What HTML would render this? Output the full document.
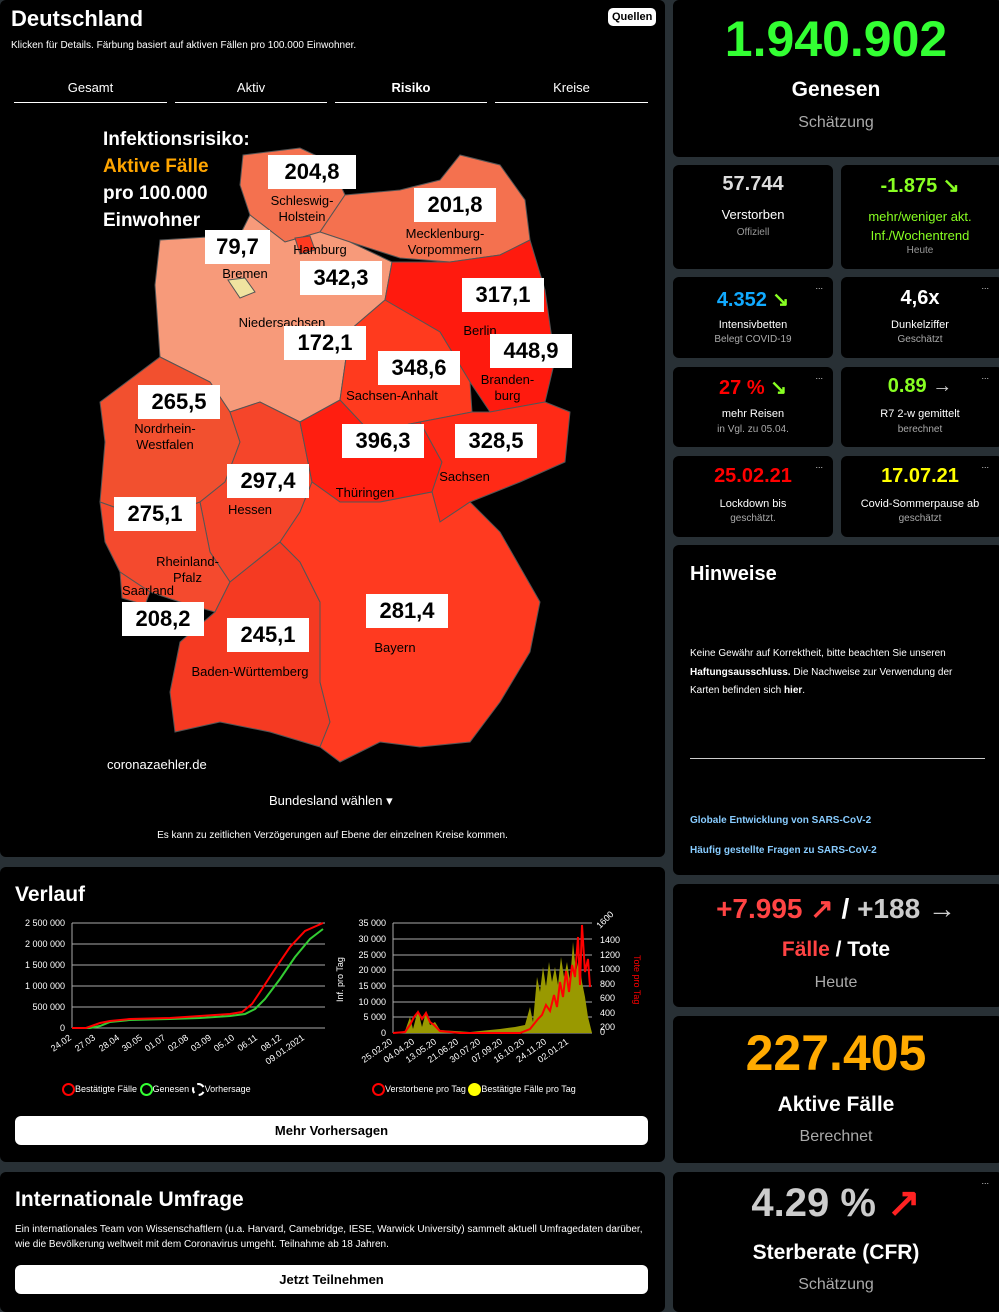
<!DOCTYPE html>
<html><head><meta charset="utf-8"><style>
*{box-sizing:border-box;margin:0;padding:0}
body{width:999px;height:1298px;background:#283035;font-family:"Liberation Sans",sans-serif;color:#fff;position:relative;overflow:hidden}
.p{position:absolute;background:#000;border-radius:6px}
.c{text-align:center;position:absolute;width:100%}
.t{position:absolute;white-space:nowrap}
.lbl{position:absolute;background:#fff;color:#000;font-weight:bold;font-size:22px;text-align:center;line-height:34px;height:34px}
.sn{position:absolute;color:#000;font-size:13px;text-align:center;line-height:16px;white-space:nowrap}
.dots{position:absolute;right:10px;top:4px;font-size:9px;color:#ccc}
.btn{position:absolute;background:#fff;color:#000;font-weight:bold;font-size:13px;text-align:center;border-radius:6px;height:29px;line-height:29px}
</style></head><body>

<div class="p" style="left:0;top:0;width:665px;height:857px">
 <div class="t" style="left:11px;top:6px;font-size:22px;font-weight:bold">Deutschland</div>
 <div class="t" style="left:608px;top:8px;background:#fff;color:#000;font-size:11px;font-weight:bold;border-radius:5px;padding:3px 4px">Quellen</div>
 <div class="t" style="left:11px;top:40px;font-size:10px">Klicken für Details. Färbung basiert auf aktiven Fällen pro 100.000 Einwohner.</div>
 <div class="t" style="left:14px;top:80px;width:153px;text-align:center;font-size:13px;border-bottom:1px solid #fff;padding-bottom:7px">Gesamt</div>
 <div class="t" style="left:175px;top:80px;width:152px;text-align:center;font-size:13px;border-bottom:1px solid #fff;padding-bottom:7px">Aktiv</div>
 <div class="t" style="left:335px;top:80px;width:152px;text-align:center;font-size:13px;font-weight:bold;border-bottom:1px solid #fff;padding-bottom:7px">Risiko</div>
 <div class="t" style="left:495px;top:80px;width:153px;text-align:center;font-size:13px;border-bottom:1px solid #fff;padding-bottom:7px">Kreise</div>

 <svg style="position:absolute;left:0;top:0" width="665" height="857">
  <g stroke="#555" stroke-width="1">
  <polygon fill="#f4714f" points="243,155 300,148 330,162 345,195 320,232 285,242 250,215 240,185"/>
  <polygon fill="#f4714f" points="345,195 400,190 440,180 460,155 500,165 525,200 530,240 500,255 450,262 400,258 350,242 320,232"/>
  <polygon fill="#f79a7a" points="160,240 240,235 250,215 285,242 320,232 350,242 392,262 385,300 350,330 340,400 300,422 260,402 230,412 210,382 160,357 155,285"/>
  <polygon fill="#ff1a0e" points="392,262 450,262 500,255 530,240 545,290 555,360 545,402 490,412 470,382 440,332 385,300"/>
  <polygon fill="#ff3a1e" points="385,300 440,332 470,382 472,412 420,422 370,432 340,400 350,330"/>
  <polygon fill="#f2502f" points="100,402 160,357 210,382 230,412 240,442 225,482 200,502 150,520 100,502 105,442"/>
  <polygon fill="#f5452a" points="230,412 260,402 300,422 312,482 300,512 280,542 230,582 210,552 200,502 225,482 240,442"/>
  <polygon fill="#ff1e10" points="300,422 340,400 370,432 420,422 442,462 432,492 380,502 340,502 312,482"/>
  <polygon fill="#ff2a16" points="420,422 472,412 490,412 545,402 570,412 565,462 520,482 470,502 440,522 432,492 442,462"/>
  <polygon fill="#f44a2e" points="100,502 150,520 200,502 210,552 230,582 215,612 180,602 150,592 120,572 105,542"/>
  <polygon fill="#f44a2e" points="120,572 150,592 145,605 122,598"/>
  <polygon fill="#f53a22" points="230,582 280,542 300,562 320,602 320,682 330,722 320,747 270,732 220,722 175,732 170,692 180,642 215,612"/>
  <polygon fill="#ff3a20" points="280,542 300,512 312,482 340,502 380,502 432,492 440,522 470,502 500,532 540,602 530,652 500,702 470,742 420,747 380,742 340,762 320,747 330,722 320,682 320,602 300,562"/>
  <polygon fill="#f0e3a0" points="228,280 245,278 255,292 240,298"/>
  <polygon fill="#ff3a20" points="295,238 310,236 315,250 300,254"/>
  </g>
 </svg>
 <div class="t" style="left:103px;top:126px;font-size:19px;font-weight:bold;line-height:27px">Infektionsrisiko:<br><span style="color:#ffa500">Aktive Fälle</span><br>pro 100.000<br>Einwohner</div>
 <div class="lbl" style="left:268px;top:155px;width:88px">204,8</div>
 <div class="sn" style="left:262px;top:193px;width:80px">Schleswig-<br>Holstein</div>
 <div class="lbl" style="left:414px;top:188px;width:82px">201,8</div>
 <div class="sn" style="left:395px;top:226px;width:100px">Mecklenburg-<br>Vorpommern</div>
 <div class="lbl" style="left:205px;top:230px;width:65px">79,7</div>
 <div class="sn" style="left:215px;top:266px;width:60px">Bremen</div>
 <div class="sn" style="left:290px;top:242px;width:60px">Hamburg</div>
 <div class="lbl" style="left:300px;top:261px;width:82px">342,3</div>
 <div class="lbl" style="left:462px;top:278px;width:82px">317,1</div>
 <div class="sn" style="left:460px;top:323px;width:40px">Berlin</div>
 <div class="sn" style="left:232px;top:315px;width:100px">Niedersachsen</div>
 <div class="lbl" style="left:284px;top:326px;width:82px">172,1</div>
 <div class="lbl" style="left:490px;top:334px;width:82px">448,9</div>
 <div class="sn" style="left:475px;top:372px;width:65px">Branden-<br>burg</div>
 <div class="lbl" style="left:378px;top:351px;width:82px">348,6</div>
 <div class="sn" style="left:342px;top:388px;width:100px">Sachsen-Anhalt</div>
 <div class="lbl" style="left:138px;top:385px;width:82px">265,5</div>
 <div class="sn" style="left:125px;top:421px;width:80px">Nordrhein-<br>Westfalen</div>
 <div class="lbl" style="left:342px;top:424px;width:82px">396,3</div>
 <div class="lbl" style="left:455px;top:424px;width:82px">328,5</div>
 <div class="sn" style="left:432px;top:469px;width:65px">Sachsen</div>
 <div class="lbl" style="left:227px;top:464px;width:82px">297,4</div>
 <div class="sn" style="left:220px;top:502px;width:60px">Hessen</div>
 <div class="sn" style="left:330px;top:485px;width:70px">Thüringen</div>
 <div class="lbl" style="left:114px;top:497px;width:82px">275,1</div>
 <div class="sn" style="left:150px;top:554px;width:75px">Rheinland-<br>Pfalz</div>
 <div class="sn" style="left:118px;top:583px;width:60px">Saarland</div>
 <div class="lbl" style="left:122px;top:602px;width:82px">208,2</div>
 <div class="lbl" style="left:366px;top:594px;width:82px">281,4</div>
 <div class="sn" style="left:365px;top:640px;width:60px">Bayern</div>
 <div class="lbl" style="left:227px;top:618px;width:82px">245,1</div>
 <div class="sn" style="left:185px;top:664px;width:130px">Baden-Württemberg</div>
 <div class="t" style="left:107px;top:757px;font-size:13px">coronazaehler.de</div>
 <div class="t" style="left:269px;top:793px;font-size:13px">Bundesland wählen ▾</div>
 <div class="c" style="top:830px;font-size:10px">Es kann zu zeitlichen Verzögerungen auf Ebene der einzelnen Kreise kommen.</div>
</div>

<div class="p" style="left:0;top:867px;width:665px;height:295px">
 <div class="t" style="left:15px;top:16px;font-size:21px;font-weight:bold">Verlauf</div>
 <svg style="position:absolute;left:0;top:0" width="665" height="295" font-family="Liberation Sans" font-size="9" fill="#fff">
  <g stroke="#aaa" stroke-width="1">
   <line x1="72" y1="56" x2="325" y2="56"/><line x1="72" y1="77" x2="325" y2="77"/><line x1="72" y1="98" x2="325" y2="98"/><line x1="72" y1="119" x2="325" y2="119"/><line x1="72" y1="140" x2="325" y2="140"/><line x1="72" y1="161" x2="325" y2="161"/>
   <line x1="72" y1="56" x2="72" y2="161"/>
   <line x1="393" y1="56" x2="592" y2="56"/><line x1="393" y1="72" x2="592" y2="72"/><line x1="393" y1="88" x2="592" y2="88"/><line x1="393" y1="103" x2="592" y2="103"/><line x1="393" y1="119" x2="592" y2="119"/><line x1="393" y1="135" x2="592" y2="135"/><line x1="393" y1="150" x2="592" y2="150"/><line x1="393" y1="166" x2="592" y2="166"/>
   <line x1="393" y1="56" x2="393" y2="166"/>
  </g>
  <g text-anchor="end">
   <text x="65" y="59">2 500 000</text><text x="65" y="80">2 000 000</text><text x="65" y="101">1 500 000</text><text x="65" y="122">1 000 000</text><text x="65" y="143">500 000</text><text x="65" y="164">0</text>
   <text x="386" y="59">35 000</text><text x="386" y="75">30 000</text><text x="386" y="91">25 000</text><text x="386" y="106">20 000</text><text x="386" y="122">15 000</text><text x="386" y="138">10 000</text><text x="386" y="153">5 000</text><text x="386" y="169">0</text>
  </g>
  <g text-anchor="end">
   <text transform="translate(72,172) rotate(-35)">24.02</text><text transform="translate(96,172) rotate(-35)">27.03</text><text transform="translate(120,172) rotate(-35)">28.04</text><text transform="translate(143,172) rotate(-35)">30.05</text><text transform="translate(166,172) rotate(-35)">01.07</text><text transform="translate(189,172) rotate(-35)">02.08</text><text transform="translate(212,172) rotate(-35)">03.09</text><text transform="translate(235,172) rotate(-35)">05.10</text><text transform="translate(258,172) rotate(-35)">06.11</text><text transform="translate(282,172) rotate(-35)">08.12</text><text transform="translate(305,172) rotate(-35)">09.01.2021</text>
   <text transform="translate(393,176) rotate(-35)">25.02.20</text><text transform="translate(415,176) rotate(-35)">04.04.20</text><text transform="translate(437,176) rotate(-35)">13.05.20</text><text transform="translate(459,176) rotate(-35)">21.06.20</text><text transform="translate(481,176) rotate(-35)">30.07.20</text><text transform="translate(503,176) rotate(-35)">07.09.20</text><text transform="translate(525,176) rotate(-35)">16.10.20</text><text transform="translate(547,176) rotate(-35)">24.11.20</text><text transform="translate(569,176) rotate(-35)">02.01.21</text>
  </g>
  <g>
   <text x="600" y="62" transform="rotate(-45 600 62)">1600</text><text x="600" y="76">1400</text><text x="600" y="91">1200</text><text x="600" y="105">1000</text><text x="600" y="120">800</text><text x="600" y="134">600</text><text x="600" y="149">400</text><text x="600" y="163">200</text><text x="600" y="168">0</text>
  </g>
  <text transform="translate(343,135) rotate(-90)">Inf. pro Tag</text>
  <text transform="translate(634,88) rotate(90)" fill="#f00">Tote pro Tag</text>
  <polyline fill="none" stroke="#3c3" stroke-width="2" points="72,161 90,161 100,159 110,155 130,153 170,152 200,151 230,149 245,147 255,142 265,132 280,112 295,90 310,72 323,62"/>
  <polyline fill="none" stroke="#f00" stroke-width="2" points="72,161 86,161 100,156 110,154 130,152 170,151 200,149 230,147 242,145 252,137 262,122 275,102 290,80 305,64 323,56"/>
  <polygon fill="#990" points="395,166 405,164 410,150 413,162 418,143 422,160 426,145 430,158 435,155 440,163 470,165 500,162 515,160 525,158 530,140 533,155 537,110 540,125 543,100 546,120 549,95 552,115 555,100 558,118 561,90 564,110 567,95 570,115 573,75 576,105 579,90 582,115 585,130 588,150 592,166"/>
  <polyline fill="none" stroke="#f00" stroke-width="2" points="393,166 405,165 410,158 414,150 418,145 422,152 426,146 430,155 434,158 440,164 460,166 520,166 530,162 538,152 542,148 546,138 550,144 554,128 557,140 560,115 563,130 566,104 569,125 572,98 575,110 578,70 580,118 582,58 585,105 588,92 590,120"/>
 </svg>
 <div class="t" style="left:62px;top:216px;font-size:9px"><span style="display:inline-block;width:13px;height:13px;border:2px solid #f00;border-radius:50%;vertical-align:middle"></span>Bestätigte Fälle <span style="display:inline-block;width:13px;height:13px;border:2px solid #3f3;border-radius:50%;vertical-align:middle"></span>Genesen <span style="display:inline-block;width:13px;height:13px;border:2px dashed #fff;border-radius:50%;vertical-align:middle"></span>Vorhersage</div>
 <div class="t" style="left:372px;top:216px;font-size:9px"><span style="display:inline-block;width:13px;height:13px;border:2px solid #f00;border-radius:50%;vertical-align:middle"></span>Verstorbene pro Tag <span style="display:inline-block;width:13px;height:13px;background:#ff0;border-radius:50%;vertical-align:middle"></span>Bestätigte Fälle pro Tag</div>
 <div class="btn" style="left:15px;top:249px;width:633px">Mehr Vorhersagen</div>
</div>

<div class="p" style="left:0;top:1172px;width:665px;height:140px">
 <div class="t" style="left:15px;top:16px;font-size:21px;font-weight:bold">Internationale Umfrage</div>
 <div class="t" style="left:15px;top:50px;font-size:10px;line-height:15px;white-space:normal;width:630px">Ein internationales Team von Wissenschaftlern (u.a. Harvard, Camebridge, IESE, Warwick University) sammelt aktuell Umfragedaten darüber, wie die Bevölkerung weltweit mit dem Coronavirus umgeht. Teilnahme ab 18 Jahren.</div>
 <div class="btn" style="left:15px;top:93px;width:633px">Jetzt Teilnehmen</div>
</div>

<div class="p" style="left:673px;top:0;width:330px;height:157px">
 <div class="c" style="top:10px;font-size:50px;font-weight:bold;color:#3f3;width:326px">1.940.902</div>
 <div class="c" style="top:78px;font-size:21px;font-weight:bold;width:326px">Genesen</div>
 <div class="c" style="top:114px;font-size:16px;color:#aaa;width:326px">Schätzung</div>
</div>

<div class="p" style="left:673px;top:165px;width:160px;height:104px">
 <div class="c" style="top:8px;font-size:20px;font-weight:bold;color:#ddd">57.744</div>
 <div class="c" style="top:42px;font-size:13px">Verstorben</div>
 <div class="c" style="top:62px;font-size:10px;color:#999">Offiziell</div>
</div>
<div class="p" style="left:841px;top:165px;width:162px;height:104px">
 <div class="c" style="top:8px;font-size:20px;font-weight:bold;color:#8f2;width:158px">-1.875 ↘</div>
 <div class="c" style="top:42px;font-size:13px;color:#8f2;line-height:19px;width:158px">mehr/weniger akt.<br>Inf./Wochentrend</div>
 <div class="c" style="top:80px;font-size:10px;color:#999;width:158px">Heute</div>
</div>

<div class="p" style="left:673px;top:277px;width:160px;height:81px"><span class="dots">...</span>
 <div class="c" style="top:10px;font-size:20px;font-weight:bold;color:#1af">4.352 <span style="color:#8f2">↘</span></div>
 <div class="c" style="top:42px;font-size:11px">Intensivbetten</div>
 <div class="c" style="top:57px;font-size:10px;color:#aaa">Belegt COVID-19</div>
</div>
<div class="p" style="left:841px;top:277px;width:162px;height:81px"><span class="dots" style="right:14px">...</span>
 <div class="c" style="top:10px;font-size:20px;font-weight:bold;width:158px">4,6x</div>
 <div class="c" style="top:42px;font-size:11px;width:158px">Dunkelziffer</div>
 <div class="c" style="top:57px;font-size:10px;color:#aaa;width:158px">Geschätzt</div>
</div>

<div class="p" style="left:673px;top:367px;width:160px;height:80px"><span class="dots">...</span>
 <div class="c" style="top:8px;font-size:20px;font-weight:bold;color:#f00">27 % <span style="color:#8f2">↘</span></div>
 <div class="c" style="top:41px;font-size:11px">mehr Reisen</div>
 <div class="c" style="top:57px;font-size:10px;color:#aaa">in Vgl. zu 05.04.</div>
</div>
<div class="p" style="left:841px;top:367px;width:162px;height:80px"><span class="dots" style="right:14px">...</span>
 <div class="c" style="top:8px;font-size:20px;font-weight:bold;color:#8f2;width:158px">0.89 <span style="color:#ccc">→</span></div>
 <div class="c" style="top:41px;font-size:11px;width:158px">R7 2-w gemittelt</div>
 <div class="c" style="top:57px;font-size:10px;color:#aaa;width:158px">berechnet</div>
</div>

<div class="p" style="left:673px;top:456px;width:160px;height:81px"><span class="dots">...</span>
 <div class="c" style="top:9px;font-size:20px;font-weight:bold;color:#f00">25.02.21</div>
 <div class="c" style="top:42px;font-size:11px">Lockdown bis</div>
 <div class="c" style="top:57px;font-size:10px;color:#aaa">geschätzt.</div>
</div>
<div class="p" style="left:841px;top:456px;width:162px;height:81px"><span class="dots" style="right:14px">...</span>
 <div class="c" style="top:9px;font-size:20px;font-weight:bold;color:#ff0;width:158px">17.07.21</div>
 <div class="c" style="top:42px;font-size:11px;width:158px">Covid-Sommerpause ab</div>
 <div class="c" style="top:57px;font-size:10px;color:#aaa;width:158px">geschätzt</div>
</div>

<div class="p" style="left:673px;top:545px;width:330px;height:330px">
 <div class="t" style="left:17px;top:18px;font-size:20px;font-weight:bold">Hinweise</div>
 <div class="t" style="left:17px;top:100px;font-size:10px;line-height:18.5px;white-space:normal;width:290px">Keine Gewähr auf Korrektheit, bitte beachten Sie unseren <b>Haftungsausschluss.</b> Die Nachweise zur Verwendung der Karten befinden sich <b>hier</b>.</div>
 <div class="t" style="left:17px;top:213px;width:295px;border-top:1px solid #ccc"></div>
 <div class="t" style="left:17px;top:270px;font-size:10px;font-weight:bold;color:#8cf">Globale Entwicklung von SARS-CoV-2</div>
 <div class="t" style="left:17px;top:300px;font-size:10px;font-weight:bold;color:#8cf">Häufig gestellte Fragen zu SARS-CoV-2</div>
</div>

<div class="p" style="left:673px;top:884px;width:330px;height:123px">
 <div class="c" style="top:8px;font-size:28px;font-weight:bold;width:326px"><span style="color:#f44">+7.995 ↗</span> / <span style="color:#ccc">+188 →</span></div>
 <div class="c" style="top:54px;font-size:21px;font-weight:bold;width:326px"><span style="color:#f44">Fälle</span> / Tote</div>
 <div class="c" style="top:90px;font-size:16px;color:#aaa;width:326px">Heute</div>
</div>

<div class="p" style="left:673px;top:1016px;width:330px;height:147px">
 <div class="c" style="top:8px;font-size:50px;font-weight:bold;color:#fa0;width:326px">227.405</div>
 <div class="c" style="top:77px;font-size:21px;font-weight:bold;width:326px">Aktive Fälle</div>
 <div class="c" style="top:112px;font-size:16px;color:#aaa;width:326px">Berechnet</div>
</div>

<div class="p" style="left:673px;top:1172px;width:330px;height:140px"><span class="dots" style="right:14px">...</span>
 <div class="c" style="top:8px;font-size:40px;font-weight:bold;color:#ccc;width:326px">4.29 % <span style="color:#f22">↗</span></div>
 <div class="c" style="top:69px;font-size:21px;font-weight:bold;width:326px">Sterberate (CFR)</div>
 <div class="c" style="top:104px;font-size:16px;color:#aaa;width:326px">Schätzung</div>
</div>
</body></html>
